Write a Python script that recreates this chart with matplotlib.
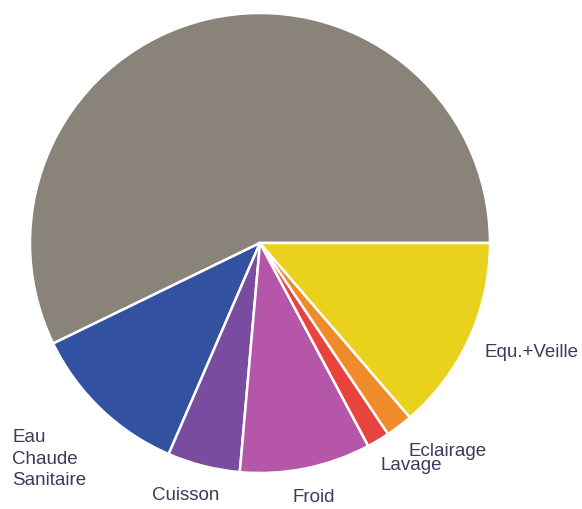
import matplotlib.pyplot as plt

# consumption shares (%)
labels = ["Chauffage", "Eau\nChaude\nSanitaire", "Cuisson", "Froid",
          "Lavage", "Eclairage", "Equ.+Veille"]
shares = [57.2, 11.3, 5.1, 9.2, 1.6, 1.9, 13.7]
colors = ["#8a8379", "#3351a1", "#7a4c9f", "#b556a8", "#e9433d", "#f08b2a", "#e9d11c"]

W, H = 582, 509
cx, cy, R = 260, 243, 230


def px(x, y):
    # pixel position -> data coordinates (unit radius pie)
    return (x - cx) / R, (cy - y) / R


fig = plt.figure(figsize=(W / 100, H / 100), dpi=100)
ax = fig.add_axes([0, 0, 1, 1])
ax.pie(shares, colors=colors, startangle=0, counterclock=True, radius=1.0,
       wedgeprops=dict(edgecolor="white", linewidth=1.8))
ax.set_aspect("auto")
ax.set_xlim(-cx / R, (W - cx) / R)
ax.set_ylim(-(H - cy) / R, cy / R)
ax.axis("off")

txt = dict(color="#3b3b5c", fontsize=13.5, family="Liberation Sans")
label_pos = [
    (px(185, -10), "center", "center"),
    (px(12, 459), "left", "center"),
    (px(152, 496), "left", "center"),
    (px(293, 497), "left", "center"),
    (px(380, 466), "left", "center"),
    (px(408, 451), "left", "center"),
    (px(485, 353), "left", "center"),
]
for name, ((x, y), ha, va) in zip(labels, label_pos):
    ax.text(x, y, name, ha=ha, va=va, linespacing=1.38, **txt)

fig.savefig("out.png", dpi=100)
